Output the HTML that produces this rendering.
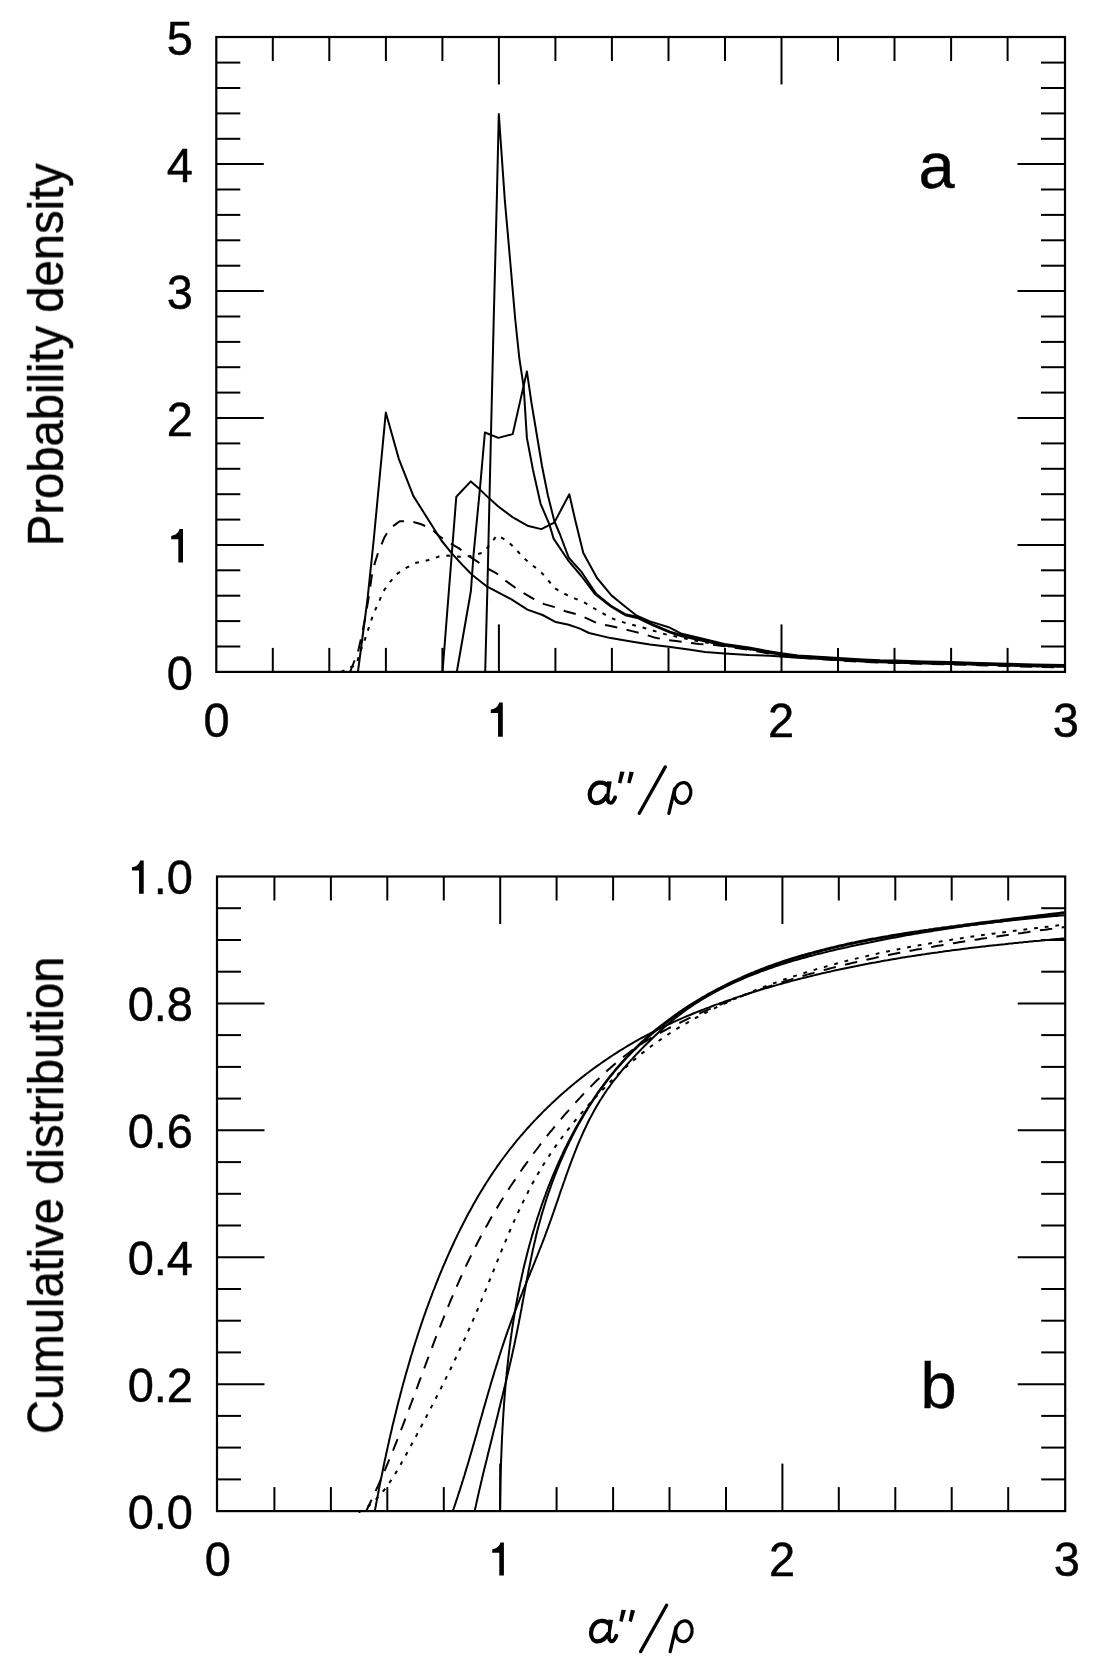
<!DOCTYPE html>
<html><head><meta charset="utf-8"><style>
html,body{margin:0;padding:0;background:#fff;}
body{width:1104px;height:1675px;overflow:hidden;position:relative;}
svg{position:absolute;left:0;top:0;}
text{font-family:"Liberation Sans", sans-serif;fill:#000;}
.c{fill:none;stroke:#000;stroke-width:2.0;stroke-linejoin:round;stroke-linecap:butt;}
.dash{stroke-dasharray:12.5 9.5;}
.dot{stroke-dasharray:3.8 6.9;}
line,rect{stroke:#000;}
</style></head><body>
<svg width="1104" height="1675" viewBox="0 0 1104 1675">
<g>
<rect x="216.3" y="37.0" width="848.7" height="634.9" fill="none" stroke-width="2.2"/>
<rect x="217.0" y="876.5" width="848.2" height="634.6" fill="none" stroke-width="2.2"/>
<line x1="272.8" y1="671.9" x2="272.8" y2="647.9" stroke-width="2.0"/>
<line x1="272.8" y1="37.0" x2="272.8" y2="61.0" stroke-width="2.0"/>
<line x1="329.3" y1="671.9" x2="329.3" y2="647.9" stroke-width="2.0"/>
<line x1="329.3" y1="37.0" x2="329.3" y2="61.0" stroke-width="2.0"/>
<line x1="385.9" y1="671.9" x2="385.9" y2="647.9" stroke-width="2.0"/>
<line x1="385.9" y1="37.0" x2="385.9" y2="61.0" stroke-width="2.0"/>
<line x1="442.4" y1="671.9" x2="442.4" y2="647.9" stroke-width="2.0"/>
<line x1="442.4" y1="37.0" x2="442.4" y2="61.0" stroke-width="2.0"/>
<line x1="498.9" y1="671.9" x2="498.9" y2="624.4" stroke-width="2.0"/>
<line x1="498.9" y1="37.0" x2="498.9" y2="84.5" stroke-width="2.0"/>
<line x1="555.4" y1="671.9" x2="555.4" y2="647.9" stroke-width="2.0"/>
<line x1="555.4" y1="37.0" x2="555.4" y2="61.0" stroke-width="2.0"/>
<line x1="611.9" y1="671.9" x2="611.9" y2="647.9" stroke-width="2.0"/>
<line x1="611.9" y1="37.0" x2="611.9" y2="61.0" stroke-width="2.0"/>
<line x1="668.5" y1="671.9" x2="668.5" y2="647.9" stroke-width="2.0"/>
<line x1="668.5" y1="37.0" x2="668.5" y2="61.0" stroke-width="2.0"/>
<line x1="725.0" y1="671.9" x2="725.0" y2="647.9" stroke-width="2.0"/>
<line x1="725.0" y1="37.0" x2="725.0" y2="61.0" stroke-width="2.0"/>
<line x1="781.5" y1="671.9" x2="781.5" y2="624.4" stroke-width="2.0"/>
<line x1="781.5" y1="37.0" x2="781.5" y2="84.5" stroke-width="2.0"/>
<line x1="838.0" y1="671.9" x2="838.0" y2="647.9" stroke-width="2.0"/>
<line x1="838.0" y1="37.0" x2="838.0" y2="61.0" stroke-width="2.0"/>
<line x1="894.5" y1="671.9" x2="894.5" y2="647.9" stroke-width="2.0"/>
<line x1="894.5" y1="37.0" x2="894.5" y2="61.0" stroke-width="2.0"/>
<line x1="951.1" y1="671.9" x2="951.1" y2="647.9" stroke-width="2.0"/>
<line x1="951.1" y1="37.0" x2="951.1" y2="61.0" stroke-width="2.0"/>
<line x1="1007.6" y1="671.9" x2="1007.6" y2="647.9" stroke-width="2.0"/>
<line x1="1007.6" y1="37.0" x2="1007.6" y2="61.0" stroke-width="2.0"/>
<line x1="274.4" y1="1511.1" x2="274.4" y2="1487.1" stroke-width="2.0"/>
<line x1="274.4" y1="876.5" x2="274.4" y2="900.5" stroke-width="2.0"/>
<line x1="330.9" y1="1511.1" x2="330.9" y2="1487.1" stroke-width="2.0"/>
<line x1="330.9" y1="876.5" x2="330.9" y2="900.5" stroke-width="2.0"/>
<line x1="387.3" y1="1511.1" x2="387.3" y2="1487.1" stroke-width="2.0"/>
<line x1="387.3" y1="876.5" x2="387.3" y2="900.5" stroke-width="2.0"/>
<line x1="443.8" y1="1511.1" x2="443.8" y2="1487.1" stroke-width="2.0"/>
<line x1="443.8" y1="876.5" x2="443.8" y2="900.5" stroke-width="2.0"/>
<line x1="500.2" y1="1511.1" x2="500.2" y2="1463.6" stroke-width="2.0"/>
<line x1="500.2" y1="876.5" x2="500.2" y2="924.0" stroke-width="2.0"/>
<line x1="556.6" y1="1511.1" x2="556.6" y2="1487.1" stroke-width="2.0"/>
<line x1="556.6" y1="876.5" x2="556.6" y2="900.5" stroke-width="2.0"/>
<line x1="613.1" y1="1511.1" x2="613.1" y2="1487.1" stroke-width="2.0"/>
<line x1="613.1" y1="876.5" x2="613.1" y2="900.5" stroke-width="2.0"/>
<line x1="669.5" y1="1511.1" x2="669.5" y2="1487.1" stroke-width="2.0"/>
<line x1="669.5" y1="876.5" x2="669.5" y2="900.5" stroke-width="2.0"/>
<line x1="726.0" y1="1511.1" x2="726.0" y2="1487.1" stroke-width="2.0"/>
<line x1="726.0" y1="876.5" x2="726.0" y2="900.5" stroke-width="2.0"/>
<line x1="782.4" y1="1511.1" x2="782.4" y2="1463.6" stroke-width="2.0"/>
<line x1="782.4" y1="876.5" x2="782.4" y2="924.0" stroke-width="2.0"/>
<line x1="838.8" y1="1511.1" x2="838.8" y2="1487.1" stroke-width="2.0"/>
<line x1="838.8" y1="876.5" x2="838.8" y2="900.5" stroke-width="2.0"/>
<line x1="895.3" y1="1511.1" x2="895.3" y2="1487.1" stroke-width="2.0"/>
<line x1="895.3" y1="876.5" x2="895.3" y2="900.5" stroke-width="2.0"/>
<line x1="951.7" y1="1511.1" x2="951.7" y2="1487.1" stroke-width="2.0"/>
<line x1="951.7" y1="876.5" x2="951.7" y2="900.5" stroke-width="2.0"/>
<line x1="1008.2" y1="1511.1" x2="1008.2" y2="1487.1" stroke-width="2.0"/>
<line x1="1008.2" y1="876.5" x2="1008.2" y2="900.5" stroke-width="2.0"/>
<line x1="216.3" y1="646.5" x2="240.3" y2="646.5" stroke-width="2.0"/>
<line x1="1065.0" y1="646.5" x2="1041.0" y2="646.5" stroke-width="2.0"/>
<line x1="216.3" y1="621.1" x2="240.3" y2="621.1" stroke-width="2.0"/>
<line x1="1065.0" y1="621.1" x2="1041.0" y2="621.1" stroke-width="2.0"/>
<line x1="216.3" y1="595.7" x2="240.3" y2="595.7" stroke-width="2.0"/>
<line x1="1065.0" y1="595.7" x2="1041.0" y2="595.7" stroke-width="2.0"/>
<line x1="216.3" y1="570.3" x2="240.3" y2="570.3" stroke-width="2.0"/>
<line x1="1065.0" y1="570.3" x2="1041.0" y2="570.3" stroke-width="2.0"/>
<line x1="216.3" y1="545.0" x2="263.8" y2="545.0" stroke-width="2.0"/>
<line x1="1065.0" y1="545.0" x2="1017.5" y2="545.0" stroke-width="2.0"/>
<line x1="216.3" y1="519.6" x2="240.3" y2="519.6" stroke-width="2.0"/>
<line x1="1065.0" y1="519.6" x2="1041.0" y2="519.6" stroke-width="2.0"/>
<line x1="216.3" y1="494.2" x2="240.3" y2="494.2" stroke-width="2.0"/>
<line x1="1065.0" y1="494.2" x2="1041.0" y2="494.2" stroke-width="2.0"/>
<line x1="216.3" y1="468.8" x2="240.3" y2="468.8" stroke-width="2.0"/>
<line x1="1065.0" y1="468.8" x2="1041.0" y2="468.8" stroke-width="2.0"/>
<line x1="216.3" y1="443.4" x2="240.3" y2="443.4" stroke-width="2.0"/>
<line x1="1065.0" y1="443.4" x2="1041.0" y2="443.4" stroke-width="2.0"/>
<line x1="216.3" y1="418.0" x2="263.8" y2="418.0" stroke-width="2.0"/>
<line x1="1065.0" y1="418.0" x2="1017.5" y2="418.0" stroke-width="2.0"/>
<line x1="216.3" y1="392.6" x2="240.3" y2="392.6" stroke-width="2.0"/>
<line x1="1065.0" y1="392.6" x2="1041.0" y2="392.6" stroke-width="2.0"/>
<line x1="216.3" y1="367.2" x2="240.3" y2="367.2" stroke-width="2.0"/>
<line x1="1065.0" y1="367.2" x2="1041.0" y2="367.2" stroke-width="2.0"/>
<line x1="216.3" y1="341.9" x2="240.3" y2="341.9" stroke-width="2.0"/>
<line x1="1065.0" y1="341.9" x2="1041.0" y2="341.9" stroke-width="2.0"/>
<line x1="216.3" y1="316.5" x2="240.3" y2="316.5" stroke-width="2.0"/>
<line x1="1065.0" y1="316.5" x2="1041.0" y2="316.5" stroke-width="2.0"/>
<line x1="216.3" y1="291.1" x2="263.8" y2="291.1" stroke-width="2.0"/>
<line x1="1065.0" y1="291.1" x2="1017.5" y2="291.1" stroke-width="2.0"/>
<line x1="216.3" y1="265.7" x2="240.3" y2="265.7" stroke-width="2.0"/>
<line x1="1065.0" y1="265.7" x2="1041.0" y2="265.7" stroke-width="2.0"/>
<line x1="216.3" y1="240.3" x2="240.3" y2="240.3" stroke-width="2.0"/>
<line x1="1065.0" y1="240.3" x2="1041.0" y2="240.3" stroke-width="2.0"/>
<line x1="216.3" y1="214.9" x2="240.3" y2="214.9" stroke-width="2.0"/>
<line x1="1065.0" y1="214.9" x2="1041.0" y2="214.9" stroke-width="2.0"/>
<line x1="216.3" y1="189.5" x2="240.3" y2="189.5" stroke-width="2.0"/>
<line x1="1065.0" y1="189.5" x2="1041.0" y2="189.5" stroke-width="2.0"/>
<line x1="216.3" y1="164.1" x2="263.8" y2="164.1" stroke-width="2.0"/>
<line x1="1065.0" y1="164.1" x2="1017.5" y2="164.1" stroke-width="2.0"/>
<line x1="216.3" y1="138.8" x2="240.3" y2="138.8" stroke-width="2.0"/>
<line x1="1065.0" y1="138.8" x2="1041.0" y2="138.8" stroke-width="2.0"/>
<line x1="216.3" y1="113.4" x2="240.3" y2="113.4" stroke-width="2.0"/>
<line x1="1065.0" y1="113.4" x2="1041.0" y2="113.4" stroke-width="2.0"/>
<line x1="216.3" y1="88.0" x2="240.3" y2="88.0" stroke-width="2.0"/>
<line x1="1065.0" y1="88.0" x2="1041.0" y2="88.0" stroke-width="2.0"/>
<line x1="216.3" y1="62.6" x2="240.3" y2="62.6" stroke-width="2.0"/>
<line x1="1065.0" y1="62.6" x2="1041.0" y2="62.6" stroke-width="2.0"/>
<line x1="217.0" y1="1479.4" x2="241.0" y2="1479.4" stroke-width="2.0"/>
<line x1="1065.2" y1="1479.4" x2="1041.2" y2="1479.4" stroke-width="2.0"/>
<line x1="217.0" y1="1447.6" x2="241.0" y2="1447.6" stroke-width="2.0"/>
<line x1="1065.2" y1="1447.6" x2="1041.2" y2="1447.6" stroke-width="2.0"/>
<line x1="217.0" y1="1415.9" x2="241.0" y2="1415.9" stroke-width="2.0"/>
<line x1="1065.2" y1="1415.9" x2="1041.2" y2="1415.9" stroke-width="2.0"/>
<line x1="217.0" y1="1384.2" x2="264.5" y2="1384.2" stroke-width="2.0"/>
<line x1="1065.2" y1="1384.2" x2="1017.7" y2="1384.2" stroke-width="2.0"/>
<line x1="217.0" y1="1352.4" x2="241.0" y2="1352.4" stroke-width="2.0"/>
<line x1="1065.2" y1="1352.4" x2="1041.2" y2="1352.4" stroke-width="2.0"/>
<line x1="217.0" y1="1320.7" x2="241.0" y2="1320.7" stroke-width="2.0"/>
<line x1="1065.2" y1="1320.7" x2="1041.2" y2="1320.7" stroke-width="2.0"/>
<line x1="217.0" y1="1289.0" x2="241.0" y2="1289.0" stroke-width="2.0"/>
<line x1="1065.2" y1="1289.0" x2="1041.2" y2="1289.0" stroke-width="2.0"/>
<line x1="217.0" y1="1257.3" x2="264.5" y2="1257.3" stroke-width="2.0"/>
<line x1="1065.2" y1="1257.3" x2="1017.7" y2="1257.3" stroke-width="2.0"/>
<line x1="217.0" y1="1225.5" x2="241.0" y2="1225.5" stroke-width="2.0"/>
<line x1="1065.2" y1="1225.5" x2="1041.2" y2="1225.5" stroke-width="2.0"/>
<line x1="217.0" y1="1193.8" x2="241.0" y2="1193.8" stroke-width="2.0"/>
<line x1="1065.2" y1="1193.8" x2="1041.2" y2="1193.8" stroke-width="2.0"/>
<line x1="217.0" y1="1162.1" x2="241.0" y2="1162.1" stroke-width="2.0"/>
<line x1="1065.2" y1="1162.1" x2="1041.2" y2="1162.1" stroke-width="2.0"/>
<line x1="217.0" y1="1130.3" x2="264.5" y2="1130.3" stroke-width="2.0"/>
<line x1="1065.2" y1="1130.3" x2="1017.7" y2="1130.3" stroke-width="2.0"/>
<line x1="217.0" y1="1098.6" x2="241.0" y2="1098.6" stroke-width="2.0"/>
<line x1="1065.2" y1="1098.6" x2="1041.2" y2="1098.6" stroke-width="2.0"/>
<line x1="217.0" y1="1066.9" x2="241.0" y2="1066.9" stroke-width="2.0"/>
<line x1="1065.2" y1="1066.9" x2="1041.2" y2="1066.9" stroke-width="2.0"/>
<line x1="217.0" y1="1035.1" x2="241.0" y2="1035.1" stroke-width="2.0"/>
<line x1="1065.2" y1="1035.1" x2="1041.2" y2="1035.1" stroke-width="2.0"/>
<line x1="217.0" y1="1003.4" x2="264.5" y2="1003.4" stroke-width="2.0"/>
<line x1="1065.2" y1="1003.4" x2="1017.7" y2="1003.4" stroke-width="2.0"/>
<line x1="217.0" y1="971.7" x2="241.0" y2="971.7" stroke-width="2.0"/>
<line x1="1065.2" y1="971.7" x2="1041.2" y2="971.7" stroke-width="2.0"/>
<line x1="217.0" y1="940.0" x2="241.0" y2="940.0" stroke-width="2.0"/>
<line x1="1065.2" y1="940.0" x2="1041.2" y2="940.0" stroke-width="2.0"/>
<line x1="217.0" y1="908.2" x2="241.0" y2="908.2" stroke-width="2.0"/>
<line x1="1065.2" y1="908.2" x2="1041.2" y2="908.2" stroke-width="2.0"/>
<polyline class="c " points="357.9,672.0 367.4,600.0 373.7,540.0 385.8,412.6 398.8,458.8 413.3,495.9 441.4,540.5 451.8,553.4 462.6,565.1 472.0,574.8 487.2,586.7 511.1,599.2 527.4,609.6 542.6,615.0 555.7,622.1 568.7,624.8 580.0,628.6 589.0,633.0 610.7,638.1 632.5,641.7 649.9,644.6 668.7,646.8 690.4,649.7 704.9,651.9 724.5,653.4 748.9,655.0 770.1,655.8 797.8,657.8 822.3,659.0 838.6,660.0 863.1,661.4 880.0,662.2 924.3,663.4 951.5,663.9 978.7,664.6 1007.7,665.4 1033.0,666.2 1064.5,666.6"/>
<polyline class="c " points="442.5,672.0 451.7,555.0 456.3,496.8 470.8,481.4 479.0,488.6 488.9,498.1 498.0,506.3 512.5,517.1 527.4,525.7 541.3,529.1 554.3,522.6 569.3,494.3 575.2,520.0 583.3,553.0 597.0,578.0 611.4,595.4 623.8,605.5 636.8,615.7 649.9,621.4 668.7,627.2 681.7,633.8 697.7,637.4 724.5,644.0 748.9,647.6 770.1,651.4 781.5,653.2 797.8,655.4 822.3,656.9 838.6,658.1 863.1,659.5 880.0,660.3 895.4,660.6 924.3,661.6 951.5,662.1 978.7,662.9 1007.7,663.7 1033.0,664.5 1064.5,665.0"/>
<polyline class="c " points="456.8,672.0 470.9,591.0 473.5,555.2 479.9,489.1 484.9,432.5 498.4,437.9 512.7,434.1 526.9,371.4 531.4,402.4 538.5,445.0 542.0,466.0 547.8,495.0 554.3,521.0 560.0,534.5 568.7,557.7 581.7,572.2 596.2,593.9 610.7,605.5 625.2,614.2 638.3,617.1 652.8,624.3 670.1,631.6 681.7,635.2 700.0,639.5 724.5,644.7 748.9,648.3 770.1,652.1 781.5,653.9 797.8,656.1 822.3,657.6 838.6,658.8 863.1,660.2 880.0,661.0 895.4,661.3 924.3,662.3 951.5,662.8 978.7,663.6 1007.7,664.4 1033.0,665.2 1064.5,665.7"/>
<polyline class="c " points="485.2,672.0 487.6,580.0 489.9,480.0 493.7,320.0 496.8,200.0 498.8,114.0 504.8,200.0 507.7,232.6 515.3,320.0 519.3,358.0 523.7,387.2 526.9,437.9 533.0,470.0 540.6,503.8 549.3,524.1 553.6,538.6 568.1,560.3 581.7,576.5 594.8,593.9 610.7,606.5 625.2,615.2 638.3,618.3 652.8,625.3 670.1,632.6 681.7,636.2 700.0,640.3 724.5,645.5 748.9,649.1 770.1,652.9 781.5,654.7 797.8,656.9 822.3,658.4 838.6,659.6 863.1,661.0 880.0,661.8 895.4,662.1 924.3,663.1 951.5,663.6 978.7,664.4 1007.7,665.2 1033.0,666.0 1064.5,666.5"/>
<polyline class="c dash" points="350.0,672.0 354.0,662.0 358.0,652.0 362.0,634.0 366.0,614.0 369.5,592.0 372.6,570.2 378.0,553.0 384.3,537.6 389.8,528.6 399.7,521.3 409.7,521.0 420.6,524.0 431.4,528.6 438.7,535.8 449.0,542.5 459.0,548.4 468.1,555.6 477.4,561.7 488.3,568.8 497.0,573.7 505.7,580.8 515.4,587.8 524.1,593.3 535.0,599.8 544.2,604.1 555.7,607.4 565.4,611.2 577.4,614.5 587.5,618.6 597.7,623.6 609.3,625.8 619.4,628.0 631.0,630.9 642.6,633.8 654.2,637.4 664.3,639.6 675.9,641.0 687.5,642.5 699.1,643.9 710.7,644.6 724.5,646.3 748.9,649.9 770.1,653.7 781.5,655.5 797.8,657.7 822.3,659.2 838.6,660.4 863.1,661.8 880.0,662.6 895.4,662.9 924.3,663.9 951.5,664.4 978.7,665.2 1007.7,666.0 1033.0,666.8 1064.5,667.3"/>
<polyline class="c dot" points="341.0,672.0 344.6,670.4 347.1,667.9 353.3,666.3 356.6,664.7 358.5,657.0 360.4,651.2 362.5,646.0 366.1,636.1 370.0,623.8 373.8,613.0 378.7,602.5 383.3,591.4 389.6,582.5 396.6,574.2 406.1,567.9 416.2,562.8 427.6,560.3 439.1,556.5 448.2,555.6 460.0,556.8 470.8,556.1 483.5,552.5 489.4,545.2 497.1,535.3 506.1,540.2 514.3,547.5 522.0,556.1 530.1,563.8 539.2,570.1 547.0,578.6 554.0,587.8 563.3,593.3 574.5,598.3 584.6,602.6 594.1,608.4 604.2,614.2 614.3,619.3 625.2,622.9 636.1,625.8 647.0,628.7 658.6,632.3 668.7,635.2 680.3,637.4 693.3,640.3 724.5,645.6 748.9,649.2 770.1,653.0 781.5,654.8 797.8,657.0 822.3,658.5 838.6,659.7 863.1,661.1 880.0,661.9 895.4,662.2 924.3,663.2 951.5,663.7 978.7,664.5 1007.7,665.3 1033.0,666.1 1064.5,666.6"/>
<polyline class="c " points="374.8,1510.9 375.3,1508.4 375.8,1506.0 376.2,1503.5 376.7,1501.1 377.1,1498.6 377.6,1496.2 378.1,1493.7 378.6,1491.3 379.0,1488.8 379.5,1486.4 380.0,1483.9 380.5,1481.5 381.0,1479.0 381.5,1476.6 382.0,1474.1 382.5,1471.7 383.0,1469.2 383.5,1466.7 384.0,1464.3 384.5,1461.8 385.0,1459.4 385.6,1456.9 386.1,1454.5 386.6,1452.0 387.2,1449.6 387.7,1447.1 388.2,1444.7 388.8,1442.2 389.3,1439.8 389.9,1437.3 390.4,1434.9 391.0,1432.5 391.6,1430.0 392.1,1427.6 392.7,1425.1 393.3,1422.7 393.9,1420.2 394.5,1417.8 395.1,1415.4 395.7,1412.9 396.3,1410.5 396.9,1408.0 397.5,1405.6 398.1,1403.2 398.7,1400.7 399.4,1398.3 400.0,1395.9 400.6,1393.4 401.3,1391.0 401.9,1388.6 402.6,1386.1 403.2,1383.7 403.9,1381.3 404.6,1378.9 405.2,1376.5 405.9,1374.0 406.6,1371.6 407.3,1369.2 408.0,1366.8 408.7,1364.4 409.4,1362.0 410.1,1359.6 410.8,1357.1 411.5,1354.7 412.3,1352.3 413.0,1349.9 413.7,1347.5 414.5,1345.1 415.2,1342.7 416.0,1340.3 416.8,1338.0 417.5,1335.6 418.3,1333.2 419.1,1330.8 419.9,1328.4 420.7,1326.0 421.5,1323.7 422.3,1321.3 423.1,1318.9 423.9,1316.5 424.8,1314.2 425.6,1311.8 426.4,1309.4 427.3,1307.1 428.2,1304.7 429.0,1302.4 429.9,1300.0 430.8,1297.7 431.7,1295.3 432.5,1293.0 433.4,1290.6 434.4,1288.3 435.3,1286.0 436.2,1283.6 437.1,1281.3 438.1,1279.0 439.0,1276.6 439.9,1274.3 440.9,1272.0 441.9,1269.7 442.8,1267.4 443.8,1265.1 444.8,1262.8 445.8,1260.5 446.8,1258.2 447.8,1255.9 448.8,1253.6 449.9,1251.3 450.9,1249.0 452.0,1246.7 453.0,1244.5 454.1,1242.2 455.1,1239.9 456.2,1237.7 457.3,1235.4 458.4,1233.1 459.5,1230.9 460.6,1228.6 461.8,1226.4 462.9,1224.2 464.0,1221.9 465.2,1219.7 466.3,1217.5 467.5,1215.3 468.7,1213.1 469.9,1210.9 471.1,1208.7 472.3,1206.5 473.5,1204.3 474.8,1202.1 476.0,1199.9 477.2,1197.8 478.5,1195.6 479.8,1193.4 481.1,1191.3 482.4,1189.2 483.7,1187.0 485.0,1184.9 486.3,1182.8 487.7,1180.7 489.0,1178.6 490.4,1176.5 491.8,1174.4 493.2,1172.3 494.6,1170.2 496.0,1168.2 497.4,1166.1 498.9,1164.1 500.3,1162.0 501.8,1160.0 503.3,1158.0 504.8,1156.0 506.3,1154.0 507.8,1152.0 509.3,1150.0 510.9,1148.0 512.5,1146.1 514.0,1144.1 515.6,1142.2 517.2,1140.2 518.8,1138.3 520.4,1136.4 522.1,1134.5 523.7,1132.6 525.4,1130.7 527.0,1128.8 528.7,1127.0 530.4,1125.1 532.1,1123.3 533.8,1121.4 535.5,1119.6 537.3,1117.8 539.0,1116.0 540.8,1114.2 542.5,1112.4 544.3,1110.6 546.1,1108.9 547.9,1107.1 549.7,1105.4 551.5,1103.6 553.3,1101.9 555.2,1100.2 557.0,1098.5 558.9,1096.8 560.8,1095.1 562.6,1093.5 564.5,1091.8 566.4,1090.2 568.3,1088.5 570.2,1086.9 572.2,1085.3 574.1,1083.7 576.0,1082.1 578.0,1080.5 579.9,1079.0 581.9,1077.4 583.9,1075.9 585.9,1074.3 587.9,1072.8 589.9,1071.3 591.9,1069.8 593.9,1068.3 595.9,1066.9 598.0,1065.4 600.0,1064.0 602.0,1062.5 604.1,1061.1 606.2,1059.7 608.2,1058.3 610.3,1056.9 612.4,1055.5 614.5,1054.1 616.6,1052.8 618.7,1051.4 620.9,1050.1 623.0,1048.8 625.1,1047.5 627.3,1046.2 629.4,1044.9 631.6,1043.7 633.7,1042.4 635.9,1041.2 638.1,1039.9 640.3,1038.7 642.5,1037.5 644.7,1036.3 646.9,1035.1 649.1,1034.0 651.3,1032.8 653.5,1031.7 655.7,1030.5 658.0,1029.4 660.2,1028.3 662.5,1027.2 664.7,1026.1 667.0,1025.1 669.3,1024.0 671.5,1023.0 673.8,1021.9 676.1,1020.9 678.4,1019.9 680.7,1018.9 683.0,1017.9 685.3,1016.9 687.6,1015.9 689.9,1015.0 692.2,1014.0 694.5,1013.0 696.8,1012.1 699.1,1011.2 701.5,1010.3 703.8,1009.4 706.1,1008.4 708.5,1007.6 710.8,1006.7 713.2,1005.8 715.5,1004.9 717.9,1004.1 720.2,1003.2 722.6,1002.4 724.9,1001.5 727.3,1000.7 729.7,999.9 732.0,999.1 734.4,998.2 736.8,997.4 739.1,996.6 741.5,995.9 743.9,995.1 746.3,994.3 748.7,993.5 751.0,992.8 753.4,992.0 755.8,991.3 758.2,990.5 760.6,989.8 763.0,989.1 765.4,988.4 767.8,987.7 770.2,987.0 772.6,986.3 775.0,985.6 777.4,984.9 779.8,984.2 782.3,983.5 784.7,982.9 787.1,982.2 789.5,981.6 791.9,980.9 794.4,980.3 796.8,979.6 799.2,979.0 801.6,978.4 804.1,977.8 806.5,977.2 808.9,976.6 811.4,976.0 813.8,975.4 816.2,974.8 818.7,974.2 821.1,973.6 823.6,973.1 826.0,972.5 828.5,971.9 830.9,971.4 833.4,970.8 835.8,970.3 838.3,969.8 840.7,969.2 843.2,968.7 845.6,968.2 848.1,967.7 850.6,967.2 853.0,966.7 855.5,966.2 857.9,965.7 860.4,965.2 862.9,964.7 865.3,964.2 867.8,963.8 870.3,963.3 872.8,962.8 875.2,962.4 877.7,961.9 880.2,961.5 882.6,961.0 885.1,960.6 887.6,960.2 890.1,959.7 892.6,959.3 895.0,958.9 897.5,958.5 900.0,958.1 902.5,957.6 905.0,957.2 907.4,956.8 909.9,956.4 912.4,956.1 914.9,955.7 917.4,955.3 919.9,954.9 922.4,954.5 924.8,954.2 927.3,953.8 929.8,953.4 932.3,953.1 934.8,952.7 937.3,952.4 939.8,952.0 942.3,951.7 944.8,951.3 947.3,951.0 949.7,950.7 952.2,950.3 954.7,950.0 957.2,949.7 959.7,949.4 962.2,949.1 964.7,948.7 967.2,948.4 969.7,948.1 972.2,947.8 974.7,947.5 977.2,947.2 979.7,946.9 982.2,946.6 984.6,946.4 987.1,946.1 989.6,945.8 992.1,945.5 994.6,945.2 997.1,945.0 999.6,944.7 1002.1,944.4 1004.6,944.2 1007.1,943.9 1009.6,943.6 1012.1,943.4 1014.6,943.1 1017.1,942.9 1019.5,942.6 1022.0,942.4 1024.5,942.1 1027.0,941.9 1029.5,941.6 1032.0,941.4 1034.5,941.1 1037.0,940.9 1039.4,940.7 1041.9,940.4 1044.4,940.2 1046.9,940.0 1049.4,939.8 1051.9,939.5 1054.4,939.3 1056.8,939.1 1059.3,938.9 1061.8,938.6 1064.3,938.4"/>
<polyline class="c " points="452.8,1510.8 453.7,1508.5 454.5,1506.1 455.3,1503.8 456.1,1501.4 456.9,1499.0 457.7,1496.6 458.4,1494.3 459.2,1491.9 460.0,1489.5 460.7,1487.1 461.5,1484.7 462.2,1482.4 463.0,1480.0 463.7,1477.6 464.5,1475.2 465.2,1472.8 465.9,1470.4 466.6,1468.0 467.4,1465.6 468.1,1463.2 468.8,1460.8 469.5,1458.4 470.2,1455.9 470.9,1453.5 471.6,1451.1 472.3,1448.7 473.0,1446.3 473.7,1443.9 474.4,1441.4 475.1,1439.0 475.8,1436.6 476.5,1434.2 477.2,1431.8 477.8,1429.3 478.5,1426.9 479.2,1424.5 479.9,1422.1 480.6,1419.6 481.3,1417.2 482.0,1414.8 482.7,1412.4 483.3,1409.9 484.0,1407.5 484.7,1405.1 485.4,1402.7 486.1,1400.3 486.8,1397.8 487.5,1395.4 488.2,1393.0 488.9,1390.6 489.6,1388.2 490.3,1385.7 491.0,1383.3 491.7,1380.9 492.5,1378.5 493.2,1376.1 493.9,1373.7 494.6,1371.3 495.4,1368.9 496.1,1366.5 496.9,1364.1 497.6,1361.7 498.4,1359.3 499.1,1356.9 499.9,1354.5 500.6,1352.1 501.4,1349.7 502.2,1347.3 503.0,1344.9 503.8,1342.5 504.6,1340.2 505.4,1337.8 506.2,1335.4 507.0,1333.1 507.8,1330.7 508.7,1328.3 509.5,1326.0 510.4,1323.6 511.2,1321.3 512.1,1318.9 513.0,1316.6 513.9,1314.2 514.8,1311.9 515.7,1309.6 516.6,1307.2 517.5,1304.9 518.4,1302.6 519.3,1300.3 520.2,1297.9 521.1,1295.6 522.1,1293.3 523.0,1291.0 523.9,1288.7 524.9,1286.3 525.8,1284.0 526.7,1281.7 527.7,1279.4 528.6,1277.1 529.6,1274.8 530.5,1272.4 531.4,1270.1 532.4,1267.8 533.3,1265.5 534.3,1263.2 535.2,1260.8 536.1,1258.5 537.1,1256.2 538.0,1253.9 538.9,1251.5 539.8,1249.2 540.8,1246.9 541.7,1244.5 542.6,1242.2 543.5,1239.8 544.4,1237.5 545.3,1235.2 546.1,1232.8 547.0,1230.4 547.9,1228.1 548.7,1225.7 549.6,1223.4 550.4,1221.0 551.3,1218.6 552.1,1216.2 552.9,1213.9 553.8,1211.5 554.6,1209.1 555.4,1206.7 556.2,1204.3 557.1,1201.9 557.9,1199.6 558.7,1197.2 559.5,1194.8 560.3,1192.4 561.1,1190.0 562.0,1187.6 562.8,1185.2 563.6,1182.9 564.5,1180.5 565.3,1178.1 566.1,1175.7 567.0,1173.4 567.8,1171.0 568.7,1168.6 569.5,1166.3 570.4,1163.9 571.3,1161.6 572.2,1159.2 573.1,1156.9 574.0,1154.5 574.9,1152.2 575.8,1149.9 576.7,1147.6 577.7,1145.2 578.6,1142.9 579.6,1140.6 580.6,1138.3 581.6,1136.1 582.6,1133.8 583.6,1131.5 584.7,1129.2 585.8,1127.0 586.8,1124.8 587.9,1122.5 589.0,1120.3 590.2,1118.1 591.3,1115.9 592.5,1113.7 593.7,1111.5 594.9,1109.3 596.1,1107.2 597.4,1105.0 598.6,1102.9 599.9,1100.8 601.3,1098.7 602.6,1096.6 604.0,1094.5 605.4,1092.4 606.8,1090.3 608.2,1088.3 609.7,1086.3 611.1,1084.2 612.6,1082.2 614.2,1080.2 615.7,1078.3 617.3,1076.3 618.8,1074.3 620.4,1072.4 622.0,1070.4 623.6,1068.5 625.3,1066.6 626.9,1064.7 628.6,1062.8 630.3,1060.9 632.0,1059.1 633.7,1057.2 635.4,1055.4 637.2,1053.5 638.9,1051.7 640.7,1049.9 642.4,1048.1 644.2,1046.3 646.0,1044.5 647.8,1042.7 649.6,1041.0 651.4,1039.2 653.2,1037.5 655.0,1035.7 656.9,1034.0 658.7,1032.3 660.6,1030.6 662.4,1029.0 664.3,1027.3 666.2,1025.7 668.1,1024.0 670.0,1022.4 671.9,1020.8 673.9,1019.2 675.8,1017.7 677.8,1016.1 679.8,1014.6 681.8,1013.1 683.8,1011.6 685.8,1010.1 687.8,1008.7 689.9,1007.3 692.0,1005.9 694.0,1004.5 696.1,1003.1 698.3,1001.8 700.4,1000.5 702.5,999.2 704.7,997.9 706.8,996.6 709.0,995.4 711.2,994.1 713.4,992.9 715.6,991.7 717.8,990.6 720.0,989.4 722.2,988.3 724.5,987.2 726.7,986.0 729.0,985.0 731.3,983.9 733.5,982.8 735.8,981.8 738.1,980.8 740.4,979.8 742.7,978.8 745.0,977.8 747.3,976.8 749.6,975.9 751.9,975.0 754.3,974.1 756.6,973.2 759.0,972.3 761.3,971.4 763.7,970.5 766.0,969.7 768.4,968.8 770.8,968.0 773.1,967.2 775.5,966.4 777.9,965.6 780.3,964.8 782.7,964.1 785.1,963.3 787.5,962.6 789.9,961.8 792.3,961.1 794.7,960.4 797.1,959.7 799.6,959.0 802.0,958.3 804.4,957.7 806.8,957.0 809.3,956.3 811.7,955.7 814.2,955.1 816.6,954.4 819.0,953.8 821.5,953.2 823.9,952.6 826.4,952.0 828.8,951.4 831.3,950.8 833.7,950.2 836.2,949.6 838.7,949.1 841.1,948.5 843.6,948.0 846.0,947.4 848.5,946.9 851.0,946.3 853.4,945.8 855.9,945.3 858.3,944.7 860.8,944.2 863.3,943.7 865.7,943.2 868.2,942.7 870.7,942.2 873.1,941.7 875.6,941.2 878.0,940.7 880.5,940.2 883.0,939.7 885.4,939.2 887.9,938.8 890.4,938.3 892.8,937.8 895.3,937.4 897.8,936.9 900.2,936.5 902.7,936.0 905.2,935.6 907.6,935.1 910.1,934.7 912.6,934.3 915.1,933.8 917.5,933.4 920.0,933.0 922.5,932.6 924.9,932.2 927.4,931.8 929.9,931.4 932.4,931.0 934.8,930.6 937.3,930.2 939.8,929.8 942.3,929.4 944.7,929.0 947.2,928.7 949.7,928.3 952.2,927.9 954.7,927.6 957.1,927.2 959.6,926.8 962.1,926.5 964.6,926.1 967.1,925.8 969.6,925.5 972.0,925.1 974.5,924.8 977.0,924.5 979.5,924.1 982.0,923.8 984.5,923.5 987.0,923.2 989.4,922.9 991.9,922.6 994.4,922.3 996.9,922.0 999.4,921.7 1001.9,921.4 1004.4,921.1 1006.9,920.8 1009.4,920.5 1011.9,920.3 1014.4,920.0 1016.9,919.7 1019.4,919.4 1021.9,919.2 1024.4,918.9 1026.9,918.7 1029.4,918.4 1031.9,918.2 1034.4,917.9 1036.9,917.7 1039.4,917.4 1041.9,917.2 1044.4,917.0 1047.0,916.7 1049.5,916.5 1052.0,916.3 1054.5,916.1 1057.0,915.9 1059.5,915.6 1062.0,915.4 1064.6,915.2"/>
<polyline class="c " points="474.7,1510.9 475.2,1508.4 475.8,1506.0 476.3,1503.6 476.8,1501.2 477.4,1498.7 477.9,1496.3 478.5,1493.9 479.0,1491.5 479.6,1489.0 480.2,1486.6 480.7,1484.2 481.3,1481.7 481.9,1479.3 482.4,1476.9 483.0,1474.5 483.6,1472.0 484.2,1469.6 484.8,1467.2 485.4,1464.7 486.0,1462.3 486.6,1459.9 487.2,1457.4 487.8,1455.0 488.4,1452.5 489.0,1450.1 489.6,1447.7 490.2,1445.2 490.8,1442.8 491.4,1440.4 492.0,1437.9 492.6,1435.5 493.2,1433.0 493.8,1430.6 494.4,1428.2 495.1,1425.7 495.7,1423.3 496.3,1420.8 496.9,1418.4 497.5,1415.9 498.1,1413.5 498.7,1411.1 499.3,1408.6 499.9,1406.2 500.5,1403.7 501.1,1401.3 501.7,1398.8 502.3,1396.4 502.9,1393.9 503.5,1391.5 504.1,1389.1 504.7,1386.6 505.3,1384.2 505.9,1381.7 506.5,1379.3 507.0,1376.8 507.6,1374.4 508.2,1371.9 508.8,1369.5 509.3,1367.0 509.9,1364.6 510.5,1362.1 511.0,1359.7 511.6,1357.2 512.1,1354.8 512.7,1352.3 513.2,1349.9 513.7,1347.4 514.3,1345.0 514.8,1342.5 515.3,1340.1 515.8,1337.6 516.3,1335.2 516.8,1332.7 517.3,1330.3 517.8,1327.8 518.3,1325.4 518.8,1322.9 519.2,1320.5 519.7,1318.0 520.2,1315.6 520.6,1313.1 521.1,1310.7 521.6,1308.2 522.0,1305.8 522.5,1303.3 522.9,1300.9 523.4,1298.4 523.8,1296.0 524.3,1293.5 524.7,1291.1 525.2,1288.6 525.6,1286.2 526.1,1283.8 526.6,1281.3 527.0,1278.9 527.5,1276.4 528.0,1274.0 528.4,1271.5 528.9,1269.1 529.4,1266.7 529.9,1264.2 530.4,1261.8 530.9,1259.3 531.4,1256.9 531.9,1254.5 532.4,1252.0 532.9,1249.6 533.5,1247.2 534.0,1244.7 534.6,1242.3 535.2,1239.9 535.7,1237.4 536.3,1235.0 536.9,1232.6 537.5,1230.1 538.1,1227.7 538.8,1225.3 539.4,1222.9 540.1,1220.4 540.8,1218.0 541.4,1215.6 542.1,1213.2 542.9,1210.8 543.6,1208.4 544.3,1206.0 545.1,1203.5 545.8,1201.1 546.6,1198.7 547.4,1196.3 548.2,1193.9 549.0,1191.6 549.8,1189.2 550.7,1186.8 551.5,1184.4 552.4,1182.0 553.3,1179.7 554.1,1177.3 555.1,1174.9 556.0,1172.6 556.9,1170.2 557.9,1167.9 558.8,1165.6 559.8,1163.2 560.8,1160.9 561.8,1158.6 562.8,1156.3 563.8,1154.0 564.9,1151.7 565.9,1149.4 567.0,1147.1 568.1,1144.8 569.2,1142.5 570.3,1140.3 571.4,1138.0 572.5,1135.8 573.7,1133.5 574.9,1131.3 576.0,1129.1 577.2,1126.8 578.4,1124.6 579.7,1122.4 580.9,1120.2 582.2,1118.1 583.4,1115.9 584.7,1113.7 586.0,1111.6 587.3,1109.4 588.6,1107.3 590.0,1105.2 591.3,1103.1 592.7,1101.0 594.1,1098.9 595.5,1096.8 596.9,1094.8 598.3,1092.7 599.8,1090.7 601.2,1088.6 602.7,1086.6 604.2,1084.6 605.7,1082.6 607.2,1080.6 608.7,1078.7 610.3,1076.7 611.9,1074.8 613.4,1072.8 615.0,1070.9 616.6,1069.0 618.3,1067.1 619.9,1065.3 621.6,1063.4 623.2,1061.6 624.9,1059.7 626.6,1057.9 628.4,1056.1 630.1,1054.3 631.8,1052.6 633.6,1050.8 635.4,1049.1 637.2,1047.3 639.0,1045.6 640.8,1043.9 642.6,1042.2 644.5,1040.6 646.3,1038.9 648.2,1037.2 650.1,1035.6 652.0,1034.0 653.9,1032.4 655.8,1030.8 657.8,1029.2 659.7,1027.7 661.7,1026.1 663.7,1024.6 665.7,1023.1 667.7,1021.6 669.7,1020.1 671.7,1018.6 673.7,1017.2 675.8,1015.7 677.8,1014.3 679.9,1012.9 682.0,1011.5 684.0,1010.1 686.1,1008.7 688.2,1007.4 690.4,1006.0 692.5,1004.7 694.6,1003.4 696.8,1002.1 698.9,1000.8 701.1,999.5 703.2,998.2 705.4,997.0 707.6,995.7 709.8,994.5 712.0,993.3 714.2,992.1 716.4,990.9 718.6,989.7 720.9,988.6 723.1,987.5 725.4,986.3 727.6,985.2 729.9,984.1 732.1,983.0 734.4,981.9 736.7,980.9 739.0,979.8 741.2,978.8 743.5,977.8 745.8,976.8 748.1,975.8 750.4,974.8 752.8,973.8 755.1,972.9 757.4,971.9 759.7,971.0 762.0,970.1 764.4,969.2 766.7,968.3 769.1,967.4 771.4,966.6 773.8,965.7 776.1,964.9 778.5,964.1 780.8,963.2 783.2,962.4 785.6,961.6 788.0,960.9 790.3,960.1 792.7,959.3 795.1,958.6 797.5,957.8 799.9,957.1 802.3,956.4 804.7,955.7 807.1,955.0 809.5,954.3 811.9,953.6 814.3,953.0 816.7,952.3 819.1,951.7 821.6,951.0 824.0,950.4 826.4,949.8 828.8,949.2 831.3,948.6 833.7,948.0 836.2,947.4 838.6,946.8 841.0,946.3 843.5,945.7 845.9,945.1 848.4,944.6 850.8,944.1 853.3,943.5 855.7,943.0 858.2,942.5 860.7,942.0 863.1,941.5 865.6,941.0 868.1,940.6 870.5,940.1 873.0,939.6 875.5,939.1 877.9,938.7 880.4,938.2 882.9,937.8 885.4,937.4 887.9,936.9 890.3,936.5 892.8,936.1 895.3,935.7 897.8,935.3 900.3,934.9 902.8,934.5 905.3,934.1 907.7,933.7 910.2,933.3 912.7,932.9 915.2,932.5 917.7,932.2 920.2,931.8 922.7,931.4 925.2,931.1 927.7,930.7 930.2,930.4 932.7,930.0 935.2,929.7 937.7,929.3 940.2,929.0 942.7,928.7 945.2,928.3 947.7,928.0 950.2,927.7 952.7,927.4 955.1,927.0 957.6,926.7 960.1,926.4 962.6,926.1 965.1,925.8 967.6,925.5 970.1,925.1 972.6,924.8 975.1,924.5 977.6,924.2 980.1,923.9 982.6,923.6 985.1,923.3 987.6,923.0 990.1,922.7 992.6,922.4 995.0,922.1 997.5,921.8 1000.0,921.5 1002.5,921.2 1005.0,920.9 1007.5,920.6 1009.9,920.3 1012.4,919.9 1014.9,919.6 1017.4,919.3 1019.8,919.0 1022.3,918.7 1024.8,918.4 1027.3,918.1 1029.7,917.8 1032.2,917.4 1034.7,917.1 1037.1,916.8 1039.6,916.5 1042.0,916.2 1044.5,915.8 1046.9,915.5 1049.4,915.2 1051.8,914.8 1054.3,914.5 1056.7,914.1 1059.2,913.8 1061.6,913.4 1064.0,913.1"/>
<polyline class="c " points="500.0,1510.9 500.0,1508.4 500.1,1505.9 500.1,1503.4 500.1,1500.9 500.2,1498.4 500.2,1495.9 500.3,1493.4 500.3,1490.9 500.4,1488.4 500.4,1485.9 500.5,1483.4 500.5,1480.9 500.6,1478.4 500.7,1475.8 500.7,1473.3 500.8,1470.8 500.9,1468.3 500.9,1465.8 501.0,1463.3 501.1,1460.8 501.2,1458.3 501.3,1455.8 501.4,1453.3 501.5,1450.8 501.6,1448.3 501.7,1445.8 501.8,1443.3 501.9,1440.7 502.0,1438.2 502.1,1435.7 502.3,1433.2 502.4,1430.7 502.5,1428.2 502.7,1425.7 502.8,1423.2 503.0,1420.7 503.1,1418.2 503.3,1415.7 503.4,1413.2 503.6,1410.7 503.8,1408.2 503.9,1405.7 504.1,1403.2 504.3,1400.7 504.5,1398.2 504.7,1395.7 504.9,1393.2 505.1,1390.7 505.3,1388.2 505.5,1385.7 505.8,1383.2 506.0,1380.7 506.2,1378.2 506.5,1375.7 506.7,1373.2 507.0,1370.7 507.2,1368.2 507.5,1365.7 507.8,1363.2 508.0,1360.7 508.3,1358.2 508.6,1355.7 508.9,1353.3 509.2,1350.8 509.5,1348.3 509.8,1345.8 510.2,1343.3 510.5,1340.8 510.8,1338.4 511.2,1335.9 511.5,1333.4 511.9,1330.9 512.2,1328.4 512.6,1326.0 513.0,1323.5 513.4,1321.0 513.8,1318.5 514.2,1316.1 514.6,1313.6 515.0,1311.1 515.4,1308.7 515.9,1306.2 516.3,1303.7 516.8,1301.3 517.2,1298.8 517.7,1296.4 518.1,1293.9 518.6,1291.5 519.1,1289.0 519.6,1286.5 520.1,1284.1 520.6,1281.6 521.2,1279.2 521.7,1276.8 522.2,1274.3 522.8,1271.9 523.3,1269.4 523.9,1267.0 524.5,1264.6 525.1,1262.1 525.7,1259.7 526.3,1257.3 526.9,1254.8 527.5,1252.4 528.1,1250.0 528.8,1247.5 529.4,1245.1 530.1,1242.7 530.8,1240.3 531.4,1237.9 532.1,1235.5 532.8,1233.1 533.5,1230.6 534.3,1228.2 535.0,1225.8 535.7,1223.4 536.5,1221.0 537.2,1218.6 538.0,1216.2 538.8,1213.9 539.6,1211.5 540.4,1209.1 541.2,1206.7 542.0,1204.3 542.9,1201.9 543.7,1199.6 544.6,1197.2 545.5,1194.8 546.3,1192.4 547.2,1190.1 548.1,1187.7 549.0,1185.4 550.0,1183.0 550.9,1180.7 551.8,1178.3 552.8,1176.0 553.8,1173.6 554.8,1171.3 555.8,1169.0 556.8,1166.6 557.8,1164.3 558.8,1162.0 559.9,1159.7 560.9,1157.4 562.0,1155.1 563.0,1152.8 564.1,1150.5 565.2,1148.3 566.4,1146.0 567.5,1143.7 568.6,1141.5 569.8,1139.2 570.9,1137.0 572.1,1134.7 573.3,1132.5 574.5,1130.3 575.7,1128.1 576.9,1125.9 578.2,1123.7 579.4,1121.5 580.7,1119.3 582.0,1117.2 583.3,1115.0 584.6,1112.9 585.9,1110.7 587.2,1108.6 588.6,1106.5 589.9,1104.3 591.3,1102.2 592.7,1100.2 594.1,1098.1 595.5,1096.0 596.9,1093.9 598.3,1091.9 599.8,1089.9 601.2,1087.8 602.7,1085.8 604.2,1083.8 605.7,1081.8 607.2,1079.8 608.8,1077.9 610.3,1075.9 611.9,1074.0 613.5,1072.1 615.0,1070.1 616.6,1068.2 618.3,1066.3 619.9,1064.5 621.5,1062.6 623.2,1060.7 624.9,1058.9 626.6,1057.1 628.3,1055.3 630.0,1053.5 631.7,1051.7 633.5,1049.9 635.2,1048.2 637.0,1046.5 638.8,1044.7 640.6,1043.0 642.4,1041.3 644.3,1039.7 646.1,1038.0 648.0,1036.4 649.9,1034.7 651.7,1033.1 653.6,1031.5 655.5,1029.9 657.5,1028.3 659.4,1026.8 661.4,1025.2 663.3,1023.7 665.3,1022.2 667.3,1020.7 669.3,1019.2 671.3,1017.7 673.3,1016.2 675.3,1014.8 677.4,1013.4 679.4,1011.9 681.5,1010.5 683.6,1009.1 685.6,1007.8 687.7,1006.4 689.8,1005.0 692.0,1003.7 694.1,1002.4 696.2,1001.1 698.3,999.8 700.5,998.5 702.7,997.2 704.8,996.0 707.0,994.7 709.2,993.5 711.4,992.3 713.6,991.1 715.8,989.9 718.0,988.7 720.3,987.6 722.5,986.4 724.7,985.3 727.0,984.2 729.2,983.1 731.5,982.0 733.8,980.9 736.1,979.8 738.3,978.8 740.6,977.8 742.9,976.7 745.2,975.7 747.5,974.7 749.8,973.7 752.2,972.8 754.5,971.8 756.8,970.9 759.2,969.9 761.5,969.0 763.9,968.1 766.2,967.2 768.6,966.3 770.9,965.5 773.3,964.6 775.6,963.8 778.0,963.0 780.4,962.1 782.8,961.3 785.2,960.5 787.6,959.8 789.9,959.0 792.3,958.2 794.7,957.5 797.2,956.8 799.6,956.0 802.0,955.3 804.4,954.6 806.8,953.9 809.2,953.2 811.7,952.6 814.1,951.9 816.5,951.3 818.9,950.6 821.4,950.0 823.8,949.4 826.3,948.7 828.7,948.1 831.2,947.5 833.6,947.0 836.1,946.4 838.5,945.8 841.0,945.2 843.4,944.7 845.9,944.1 848.4,943.6 850.8,943.1 853.3,942.6 855.8,942.0 858.2,941.5 860.7,941.0 863.2,940.5 865.7,940.1 868.1,939.6 870.6,939.1 873.1,938.6 875.6,938.2 878.1,937.7 880.5,937.3 883.0,936.8 885.5,936.4 888.0,936.0 890.5,935.5 893.0,935.1 895.5,934.7 897.9,934.3 900.4,933.9 902.9,933.5 905.4,933.1 907.9,932.7 910.4,932.3 912.9,931.9 915.4,931.5 917.9,931.2 920.3,930.8 922.8,930.4 925.3,930.0 927.8,929.7 930.3,929.3 932.8,929.0 935.3,928.6 937.8,928.2 940.3,927.9 942.7,927.5 945.2,927.2 947.7,926.9 950.2,926.5 952.7,926.2 955.2,925.9 957.7,925.5 960.1,925.2 962.6,924.9 965.1,924.5 967.6,924.2 970.1,923.9 972.6,923.6 975.0,923.3 977.5,922.9 980.0,922.6 982.5,922.3 985.0,922.0 987.5,921.7 989.9,921.4 992.4,921.1 994.9,920.8 997.4,920.5 999.8,920.2 1002.3,919.8 1004.8,919.5 1007.3,919.2 1009.8,918.9 1012.2,918.6 1014.7,918.3 1017.2,918.0 1019.7,917.7 1022.1,917.4 1024.6,917.1 1027.1,916.8 1029.5,916.5 1032.0,916.2 1034.5,915.9 1036.9,915.6 1039.4,915.3 1041.9,915.0 1044.4,914.7 1046.8,914.4 1049.3,914.1 1051.7,913.8 1054.2,913.5 1056.7,913.2 1059.1,912.9 1061.6,912.6 1064.1,912.3"/>
<polyline class="c dash" points="366.2,1511.0 367.3,1508.7 368.4,1506.5 369.5,1504.3 370.5,1502.0 371.6,1499.8 372.7,1497.5 373.7,1495.2 374.8,1493.0 375.8,1490.7 376.8,1488.4 377.9,1486.2 378.9,1483.9 379.9,1481.6 380.9,1479.3 381.9,1477.0 382.9,1474.7 383.9,1472.4 384.9,1470.1 385.8,1467.8 386.8,1465.5 387.8,1463.2 388.7,1460.9 389.7,1458.6 390.7,1456.3 391.6,1454.0 392.5,1451.6 393.5,1449.3 394.4,1447.0 395.3,1444.7 396.3,1442.3 397.2,1440.0 398.1,1437.7 399.0,1435.3 399.9,1433.0 400.8,1430.6 401.7,1428.3 402.6,1426.0 403.5,1423.6 404.4,1421.3 405.3,1418.9 406.2,1416.6 407.1,1414.2 408.0,1411.9 408.9,1409.5 409.8,1407.2 410.6,1404.8 411.5,1402.5 412.4,1400.1 413.3,1397.7 414.2,1395.4 415.0,1393.0 415.9,1390.7 416.8,1388.3 417.7,1386.0 418.5,1383.6 419.4,1381.2 420.3,1378.9 421.2,1376.5 422.0,1374.2 422.9,1371.8 423.8,1369.5 424.7,1367.1 425.6,1364.7 426.4,1362.4 427.3,1360.0 428.2,1357.7 429.1,1355.3 430.0,1353.0 430.9,1350.6 431.8,1348.3 432.6,1345.9 433.5,1343.6 434.4,1341.2 435.3,1338.9 436.2,1336.5 437.1,1334.2 438.1,1331.8 439.0,1329.5 439.9,1327.1 440.8,1324.8 441.7,1322.5 442.7,1320.1 443.6,1317.8 444.5,1315.5 445.5,1313.1 446.4,1310.8 447.4,1308.5 448.3,1306.2 449.3,1303.9 450.2,1301.5 451.2,1299.2 452.2,1296.9 453.2,1294.6 454.2,1292.3 455.2,1290.0 456.2,1287.7 457.2,1285.4 458.2,1283.1 459.2,1280.8 460.2,1278.5 461.2,1276.3 462.3,1274.0 463.3,1271.7 464.4,1269.4 465.4,1267.2 466.5,1264.9 467.6,1262.6 468.7,1260.4 469.8,1258.1 470.9,1255.9 472.0,1253.6 473.1,1251.4 474.2,1249.2 475.3,1246.9 476.5,1244.7 477.6,1242.5 478.8,1240.3 480.0,1238.0 481.1,1235.8 482.3,1233.6 483.5,1231.4 484.7,1229.2 485.9,1227.1 487.2,1224.9 488.4,1222.7 489.6,1220.5 490.9,1218.3 492.1,1216.2 493.4,1214.0 494.7,1211.9 495.9,1209.7 497.2,1207.6 498.5,1205.4 499.8,1203.3 501.1,1201.1 502.4,1199.0 503.8,1196.9 505.1,1194.8 506.5,1192.7 507.8,1190.5 509.2,1188.4 510.5,1186.3 511.9,1184.3 513.3,1182.2 514.7,1180.1 516.1,1178.0 517.5,1175.9 518.9,1173.9 520.4,1171.8 521.8,1169.7 523.2,1167.7 524.7,1165.7 526.1,1163.6 527.6,1161.6 529.1,1159.5 530.6,1157.5 532.0,1155.5 533.5,1153.5 535.0,1151.5 536.6,1149.5 538.1,1147.5 539.6,1145.5 541.1,1143.5 542.7,1141.5 544.2,1139.5 545.8,1137.6 547.3,1135.6 548.9,1133.7 550.5,1131.7 552.1,1129.8 553.7,1127.8 555.3,1125.9 556.9,1123.9 558.5,1122.0 560.1,1120.1 561.8,1118.2 563.4,1116.3 565.0,1114.4 566.7,1112.5 568.4,1110.6 570.0,1108.7 571.7,1106.8 573.4,1105.0 575.1,1103.1 576.8,1101.2 578.5,1099.4 580.2,1097.6 581.9,1095.7 583.6,1093.9 585.4,1092.1 587.1,1090.3 588.9,1088.4 590.6,1086.7 592.4,1084.9 594.2,1083.1 596.0,1081.3 597.8,1079.6 599.6,1077.8 601.4,1076.1 603.2,1074.4 605.0,1072.7 606.9,1071.0 608.7,1069.3 610.6,1067.7 612.5,1066.0 614.3,1064.4 616.2,1062.8 618.1,1061.2 620.1,1059.6 622.0,1058.0 623.9,1056.5 625.9,1055.0 627.9,1053.5 629.8,1052.0 631.8,1050.5 633.8,1049.1 635.9,1047.7 637.9,1046.3 640.0,1044.9 642.1,1043.5 644.1,1042.2 646.2,1040.9 648.4,1039.6 650.5,1038.3 652.6,1037.0 654.8,1035.8 656.9,1034.6 659.1,1033.4 661.3,1032.2 663.5,1031.0 665.7,1029.8 667.9,1028.7 670.2,1027.5 672.4,1026.4 674.6,1025.3 676.9,1024.2 679.1,1023.1 681.4,1022.0 683.6,1020.9 685.9,1019.8 688.2,1018.7 690.4,1017.7 692.7,1016.6 695.0,1015.5 697.3,1014.5 699.6,1013.5 701.9,1012.4 704.2,1011.4 706.5,1010.4 708.8,1009.4 711.1,1008.4 713.4,1007.4 715.7,1006.4 718.0,1005.5 720.4,1004.5 722.7,1003.5 725.0,1002.6 727.4,1001.7 729.7,1000.7 732.0,999.8 734.4,998.9 736.7,998.0 739.0,997.1 741.4,996.2 743.7,995.3 746.1,994.5 748.4,993.6 750.8,992.8 753.2,991.9 755.5,991.1 757.9,990.2 760.3,989.4 762.6,988.6 765.0,987.8 767.4,987.0 769.7,986.2 772.1,985.4 774.5,984.6 776.9,983.8 779.3,983.1 781.7,982.3 784.1,981.6 786.4,980.8 788.8,980.1 791.2,979.4 793.6,978.6 796.0,977.9 798.4,977.2 800.8,976.5 803.2,975.8 805.7,975.1 808.1,974.4 810.5,973.7 812.9,973.1 815.3,972.4 817.7,971.7 820.1,971.1 822.6,970.4 825.0,969.8 827.4,969.2 829.8,968.5 832.3,967.9 834.7,967.3 837.1,966.7 839.6,966.1 842.0,965.5 844.4,964.9 846.9,964.3 849.3,963.7 851.7,963.1 854.2,962.6 856.6,962.0 859.1,961.4 861.5,960.9 864.0,960.3 866.4,959.8 868.9,959.2 871.3,958.7 873.8,958.2 876.2,957.6 878.7,957.1 881.1,956.6 883.6,956.1 886.1,955.6 888.5,955.1 891.0,954.6 893.4,954.1 895.9,953.6 898.4,953.1 900.8,952.6 903.3,952.1 905.8,951.7 908.2,951.2 910.7,950.7 913.2,950.3 915.6,949.8 918.1,949.3 920.6,948.9 923.1,948.4 925.5,948.0 928.0,947.6 930.5,947.1 932.9,946.7 935.4,946.2 937.9,945.8 940.4,945.4 942.9,945.0 945.3,944.6 947.8,944.1 950.3,943.7 952.8,943.3 955.2,942.9 957.7,942.5 960.2,942.1 962.7,941.7 965.2,941.3 967.6,940.9 970.1,940.5 972.6,940.2 975.1,939.8 977.6,939.4 980.1,939.0 982.5,938.6 985.0,938.3 987.5,937.9 990.0,937.5 992.5,937.1 995.0,936.8 997.4,936.4 999.9,936.1 1002.4,935.7 1004.9,935.3 1007.4,935.0 1009.8,934.6 1012.3,934.3 1014.8,933.9 1017.3,933.6 1019.8,933.2 1022.3,932.9 1024.7,932.5 1027.2,932.2 1029.7,931.8 1032.2,931.5 1034.7,931.1 1037.1,930.8 1039.6,930.4 1042.1,930.1 1044.6,929.8 1047.1,929.4 1049.5,929.1 1052.0,928.8 1054.5,928.4 1057.0,928.1 1059.4,927.7 1061.9,927.4 1064.4,927.1"/>
<polyline class="c dot" points="358.6,1512.3 360.8,1511.2 362.9,1509.9 365.0,1508.6 367.0,1507.1 368.9,1505.7 370.8,1504.1 372.6,1502.5 374.4,1500.9 376.1,1499.2 377.8,1497.4 379.5,1495.6 381.1,1493.8 382.6,1491.9 384.2,1490.0 385.7,1488.0 387.1,1486.0 388.6,1484.0 390.0,1481.9 391.4,1479.9 392.7,1477.8 394.1,1475.7 395.4,1473.5 396.7,1471.4 398.0,1469.2 399.2,1467.0 400.5,1464.8 401.7,1462.6 402.9,1460.4 404.2,1458.1 405.4,1455.9 406.6,1453.7 407.8,1451.5 409.0,1449.2 410.2,1447.0 411.4,1444.8 412.6,1442.6 413.8,1440.3 415.0,1438.1 416.2,1435.9 417.4,1433.6 418.5,1431.4 419.7,1429.2 420.9,1427.0 422.1,1424.7 423.3,1422.5 424.4,1420.3 425.6,1418.1 426.8,1415.8 427.9,1413.6 429.1,1411.4 430.2,1409.2 431.4,1406.9 432.5,1404.7 433.7,1402.5 434.8,1400.3 436.0,1398.0 437.1,1395.8 438.2,1393.6 439.4,1391.3 440.5,1389.1 441.6,1386.9 442.7,1384.6 443.9,1382.4 445.0,1380.2 446.1,1377.9 447.2,1375.7 448.3,1373.4 449.4,1371.2 450.5,1369.0 451.6,1366.7 452.7,1364.5 453.7,1362.2 454.8,1360.0 455.9,1357.7 457.0,1355.5 458.0,1353.2 459.1,1350.9 460.1,1348.7 461.2,1346.4 462.2,1344.2 463.3,1341.9 464.3,1339.6 465.4,1337.4 466.4,1335.1 467.4,1332.8 468.4,1330.5 469.5,1328.3 470.5,1326.0 471.5,1323.7 472.5,1321.4 473.5,1319.1 474.5,1316.8 475.5,1314.5 476.5,1312.2 477.4,1309.9 478.4,1307.6 479.4,1305.3 480.4,1303.0 481.3,1300.7 482.3,1298.4 483.2,1296.1 484.2,1293.8 485.1,1291.4 486.1,1289.1 487.0,1286.8 488.0,1284.5 488.9,1282.1 489.8,1279.8 490.8,1277.5 491.7,1275.2 492.6,1272.8 493.6,1270.5 494.5,1268.2 495.4,1265.8 496.4,1263.5 497.3,1261.2 498.3,1258.9 499.2,1256.5 500.2,1254.2 501.1,1251.9 502.0,1249.5 503.0,1247.2 504.0,1244.9 504.9,1242.6 505.9,1240.3 506.9,1238.0 507.8,1235.6 508.8,1233.3 509.8,1231.0 510.8,1228.7 511.8,1226.4 512.8,1224.1 513.8,1221.8 514.8,1219.6 515.9,1217.3 516.9,1215.0 517.9,1212.7 519.0,1210.5 520.1,1208.2 521.1,1205.9 522.2,1203.7 523.3,1201.4 524.4,1199.2 525.5,1196.9 526.6,1194.7 527.8,1192.5 528.9,1190.3 530.1,1188.0 531.3,1185.8 532.4,1183.6 533.6,1181.4 534.8,1179.3 536.1,1177.1 537.3,1174.9 538.6,1172.7 539.8,1170.6 541.1,1168.4 542.4,1166.3 543.7,1164.2 545.1,1162.1 546.4,1159.9 547.8,1157.8 549.2,1155.7 550.5,1153.7 551.9,1151.6 553.4,1149.5 554.8,1147.4 556.2,1145.4 557.7,1143.3 559.2,1141.3 560.7,1139.3 562.1,1137.3 563.7,1135.2 565.2,1133.2 566.7,1131.2 568.2,1129.3 569.8,1127.3 571.4,1125.3 572.9,1123.4 574.5,1121.4 576.1,1119.5 577.7,1117.5 579.3,1115.6 581.0,1113.7 582.6,1111.8 584.2,1109.9 585.9,1108.0 587.6,1106.1 589.2,1104.2 590.9,1102.3 592.6,1100.5 594.3,1098.6 596.0,1096.8 597.7,1094.9 599.4,1093.1 601.1,1091.3 602.8,1089.5 604.6,1087.7 606.3,1085.9 608.1,1084.1 609.8,1082.3 611.6,1080.6 613.4,1078.8 615.2,1077.1 617.0,1075.3 618.8,1073.6 620.6,1071.9 622.4,1070.2 624.3,1068.5 626.1,1066.9 628.0,1065.2 629.8,1063.6 631.7,1061.9 633.6,1060.3 635.5,1058.7 637.4,1057.1 639.3,1055.5 641.2,1053.9 643.2,1052.4 645.1,1050.8 647.1,1049.3 649.1,1047.8 651.1,1046.3 653.1,1044.8 655.1,1043.4 657.1,1041.9 659.2,1040.5 661.2,1039.1 663.3,1037.7 665.3,1036.3 667.4,1034.9 669.5,1033.5 671.6,1032.2 673.7,1030.8 675.8,1029.5 678.0,1028.2 680.1,1026.9 682.3,1025.6 684.4,1024.3 686.6,1023.1 688.8,1021.8 691.0,1020.6 693.1,1019.4 695.3,1018.2 697.6,1017.0 699.8,1015.8 702.0,1014.6 704.2,1013.5 706.5,1012.3 708.7,1011.2 710.9,1010.0 713.2,1008.9 715.4,1007.8 717.7,1006.7 720.0,1005.7 722.2,1004.6 724.5,1003.5 726.8,1002.5 729.1,1001.4 731.4,1000.4 733.7,999.4 736.0,998.4 738.3,997.4 740.6,996.4 742.9,995.4 745.2,994.4 747.5,993.5 749.8,992.5 752.1,991.6 754.4,990.6 756.8,989.7 759.1,988.8 761.4,987.9 763.8,987.0 766.1,986.1 768.4,985.2 770.8,984.4 773.1,983.5 775.5,982.7 777.8,981.8 780.2,981.0 782.5,980.1 784.9,979.3 787.3,978.5 789.6,977.7 792.0,976.9 794.4,976.1 796.8,975.4 799.1,974.6 801.5,973.8 803.9,973.1 806.3,972.3 808.7,971.6 811.0,970.9 813.4,970.2 815.8,969.4 818.2,968.7 820.6,968.0 823.0,967.3 825.4,966.7 827.8,966.0 830.2,965.3 832.7,964.6 835.1,964.0 837.5,963.3 839.9,962.7 842.3,962.1 844.7,961.4 847.2,960.8 849.6,960.2 852.0,959.6 854.4,959.0 856.9,958.4 859.3,957.8 861.7,957.2 864.2,956.7 866.6,956.1 869.0,955.5 871.5,955.0 873.9,954.4 876.4,953.9 878.8,953.3 881.3,952.8 883.7,952.3 886.2,951.8 888.6,951.2 891.1,950.7 893.5,950.2 896.0,949.7 898.4,949.2 900.9,948.7 903.3,948.3 905.8,947.8 908.3,947.3 910.7,946.8 913.2,946.4 915.7,945.9 918.1,945.5 920.6,945.0 923.1,944.6 925.5,944.1 928.0,943.7 930.5,943.3 932.9,942.8 935.4,942.4 937.9,942.0 940.4,941.6 942.8,941.2 945.3,940.8 947.8,940.4 950.3,940.0 952.7,939.6 955.2,939.2 957.7,938.8 960.2,938.4 962.7,938.0 965.1,937.6 967.6,937.3 970.1,936.9 972.6,936.5 975.1,936.2 977.5,935.8 980.0,935.5 982.5,935.1 985.0,934.8 987.5,934.4 990.0,934.1 992.5,933.7 994.9,933.4 997.4,933.1 999.9,932.7 1002.4,932.4 1004.9,932.1 1007.4,931.7 1009.8,931.4 1012.3,931.1 1014.8,930.8 1017.3,930.5 1019.8,930.1 1022.3,929.8 1024.7,929.5 1027.2,929.2 1029.7,928.9 1032.2,928.6 1034.7,928.3 1037.2,928.0 1039.6,927.7 1042.1,927.4 1044.6,927.1 1047.1,926.8 1049.6,926.5 1052.0,926.2 1054.5,925.9 1057.0,925.6 1059.5,925.3 1061.9,925.1 1064.4,924.8"/>
</g>
<g opacity="0.999">
<text transform="translate(193.00,689.50) scale(1,1.04)" font-size="47" text-anchor="end" stroke="#000" stroke-width="0.45">0</text>
<path d="M183.00,562.60 L183.00,529.10 L179.45,529.10 C178.66,532.55 175.61,535.60 171.18,535.90 L171.18,539.35 L178.32,539.35 L178.32,562.60 Z" fill="#000"/>
<text transform="translate(193.00,435.50) scale(1,1.04)" font-size="47" text-anchor="end" stroke="#000" stroke-width="0.45">2</text>
<text transform="translate(193.00,308.50) scale(1,1.04)" font-size="47" text-anchor="end" stroke="#000" stroke-width="0.45">3</text>
<text transform="translate(193.00,181.50) scale(1,1.04)" font-size="47" text-anchor="end" stroke="#000" stroke-width="0.45">4</text>
<text transform="translate(193.00,54.50) scale(1,1.04)" font-size="47" text-anchor="end" stroke="#000" stroke-width="0.45">5</text>
<text transform="translate(193.00,1529.45) scale(1,1.04)" font-size="47" text-anchor="end" stroke="#000" stroke-width="0.45">0.0</text>
<text transform="translate(193.00,1402.31) scale(1,1.04)" font-size="47" text-anchor="end" stroke="#000" stroke-width="0.45">0.2</text>
<text transform="translate(193.00,1275.17) scale(1,1.04)" font-size="47" text-anchor="end" stroke="#000" stroke-width="0.45">0.4</text>
<text transform="translate(193.00,1148.03) scale(1,1.04)" font-size="47" text-anchor="end" stroke="#000" stroke-width="0.45">0.6</text>
<text transform="translate(193.00,1020.89) scale(1,1.04)" font-size="47" text-anchor="end" stroke="#000" stroke-width="0.45">0.8</text>
<text transform="translate(193.00,893.75) scale(1,1.04)" font-size="47" text-anchor="end" stroke="#000" stroke-width="0.45">.0</text>
<path d="M143.70,893.70 L143.70,860.40 L140.17,860.40 C139.39,863.83 136.35,866.86 131.95,867.16 L131.95,870.59 L139.05,870.59 L139.05,893.70 Z" fill="#000"/>
<path d="M502.80,736.70 L502.80,702.60 L499.19,702.60 C498.39,706.11 495.28,709.22 490.76,709.52 L490.76,713.03 L498.04,713.03 L498.04,736.70 Z" fill="#000"/>
<path d="M503.90,1575.60 L503.90,1542.60 L500.41,1542.60 C499.63,1546.00 496.62,1549.01 492.25,1549.30 L492.25,1552.69 L499.29,1552.69 L499.29,1575.60 Z" fill="#000"/>
<text transform="translate(216.60,736.80) scale(1,1.04)" font-size="47" text-anchor="middle" stroke="#000" stroke-width="0.45">0</text>
<text transform="translate(217.90,1575.80) scale(1,1.04)" font-size="47" text-anchor="middle" stroke="#000" stroke-width="0.45">0</text>
<text transform="translate(780.95,736.80) scale(1,1.04)" font-size="47" text-anchor="middle" stroke="#000" stroke-width="0.45">2</text>
<text transform="translate(782.00,1575.80) scale(1,1.04)" font-size="47" text-anchor="middle" stroke="#000" stroke-width="0.45">2</text>
<text transform="translate(1065.80,736.80) scale(1,1.04)" font-size="47" text-anchor="middle" stroke="#000" stroke-width="0.45">3</text>
<text transform="translate(1066.90,1575.80) scale(1,1.04)" font-size="47" text-anchor="middle" stroke="#000" stroke-width="0.45">3</text>
<text x="0" y="0" font-size="47.2" text-anchor="middle" transform="translate(62.8,354.7) rotate(-90) scale(1,1.04)" stroke="#000" stroke-width="0.45">Probability density</text>
<text x="0" y="0" font-size="47.2" text-anchor="middle" transform="translate(62.8,1195.3) rotate(-90) scale(1,1.04)" stroke="#000" stroke-width="0.45">Cumulative distribution</text>
<g transform="translate(0,0)" fill="none" stroke="#000">
<path stroke-width="4.2" d="M608,786 C605.5,782.6 601.8,782.5 599,782.7 C593.5,783.5 589.7,789 589.7,794.4 C589.7,799.8 592.6,803.1 596.4,803.1 C600.8,803.1 605,799.5 607.6,794.5"/>
<path stroke="none" fill="#000" d="M607.1,781.2 L611.7,781.6 L609.0,797.5 L606.3,797.5 Z"/>
<path stroke-width="3.9" stroke-linecap="round" d="M607.6,796 C607.3,801 608.6,802.9 610.6,802.9 C612.4,802.9 613.9,800.3 615.1,797.4"/>
<path stroke="none" fill="#000" d="M620.2,771.4 L624.6,771.7 L621.3,783.6 L618,782.8 Z M629.5,771.4 L633.8,772.2 L630.5,783.6 L627.3,782.8 Z"/>
<path stroke-width="3.3" stroke-linecap="round" d="M639.3,813.3 L665.3,766.9"/>
<ellipse stroke-width="3.3" cx="682.6" cy="792.9" rx="8.2" ry="10.4" transform="rotate(10 682.6 792.9)"/>
<path stroke-width="3.3" stroke-linecap="round" d="M668.9,813.3 L674.6,789"/>
</g>
<g transform="translate(1.3,838.3)" fill="none" stroke="#000">
<path stroke-width="4.2" d="M608,786 C605.5,782.6 601.8,782.5 599,782.7 C593.5,783.5 589.7,789 589.7,794.4 C589.7,799.8 592.6,803.1 596.4,803.1 C600.8,803.1 605,799.5 607.6,794.5"/>
<path stroke="none" fill="#000" d="M607.1,781.2 L611.7,781.6 L609.0,797.5 L606.3,797.5 Z"/>
<path stroke-width="3.9" stroke-linecap="round" d="M607.6,796 C607.3,801 608.6,802.9 610.6,802.9 C612.4,802.9 613.9,800.3 615.1,797.4"/>
<path stroke="none" fill="#000" d="M620.2,771.4 L624.6,771.7 L621.3,783.6 L618,782.8 Z M629.5,771.4 L633.8,772.2 L630.5,783.6 L627.3,782.8 Z"/>
<path stroke-width="3.3" stroke-linecap="round" d="M639.3,813.3 L665.3,766.9"/>
<ellipse stroke-width="3.3" cx="682.6" cy="792.9" rx="8.2" ry="10.4" transform="rotate(10 682.6 792.9)"/>
<path stroke-width="3.3" stroke-linecap="round" d="M668.9,813.3 L674.6,789"/>
</g>
<text x="936.5" y="188" font-size="65" text-anchor="middle" stroke="#000" stroke-width="0.45">a</text>
<text x="938.5" y="1408" font-size="65" text-anchor="middle" stroke="#000" stroke-width="0.45">b</text>
</g>
</svg>
</body></html>
